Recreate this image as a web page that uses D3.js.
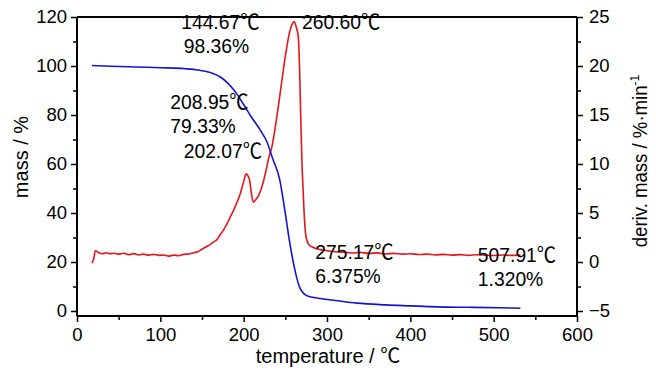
<!DOCTYPE html>
<html><head><meta charset="utf-8">
<script src="https://cdn.jsdelivr.net/npm/d3@7"></script>
<style>
body{margin:0;background:#fff;}
text{font-family:"Liberation Sans",Arial,"Noto Sans CJK SC",sans-serif;fill:#000;}
</style></head><body>
<svg id="c" width="656" height="374"></svg>
<script>
// Temperature (°C) and mass (%) — TG curve
const tgTemp = [18,40,70,100,130,145,160,172,180,187,193,199,209,220,228,235,243,249,255,261,267,272,275,283,292,310,336,370,400,432,470,508,532];
const tgMass = [100.2,99.9,99.6,99.3,98.9,98.4,97.3,95.5,93.3,90.7,88,84.8,79.3,73.8,69,62,54,42,28.5,17.5,9.8,7.2,6.4,5.6,5.1,4.3,3.2,2.5,2.1,1.7,1.5,1.32,1.1];
// Temperature (°C) and derivative mass (%/min) — DTG curve
const dtgTemp = [18,20,22,26,31,35,40,45,50,56,62,68,74,80,86,92,98,104,110,116,122,128,134,140,145,150,155,160,164,168,172,176,180,184,188,192,196,200,203,205,207,209,211.5,214,218,222,226,230,234,238,242,246,250,254,257,260.6,263,265.5,267,268,269,270,271.5,273,275,278,283,290,300,310,320,330,340,350,360,370,380,390,400,410,420,430,440,450,460,470,480,490,500,510,520,532];
const dtgVal  = [-0.1,0.3,1.15,0.95,0.85,0.95,0.85,0.9,0.8,0.9,0.75,0.85,0.72,0.8,0.7,0.78,0.68,0.72,0.6,0.7,0.65,0.78,0.82,0.95,1.05,1.3,1.55,1.8,2.05,2.3,2.8,3.3,3.9,4.6,5.3,6.1,7.0,8.2,9.0,8.8,8.4,7.2,6.1,6.3,6.8,7.7,9.0,10.6,11.8,13.8,16.1,18.6,21.0,23.0,24.0,24.5,24.0,23.0,20,16.5,13,10,7,4.3,2.5,1.8,1.5,1.3,1.15,1.05,1.0,0.92,0.98,0.88,0.93,0.82,0.88,0.8,0.84,0.76,0.8,0.72,0.78,0.7,0.75,0.68,0.74,0.7,0.66,0.72,0.68,0.7];

const xTicks = [0,100,200,300,400,500,600];
const yLeftTicks = [0,20,40,60,80,100,120];
const yRightTicks = [-5,0,5,10,15,20,25];

// annotation labels
const annLabels = ["144.67℃","98.36%","260.60℃","208.95℃","79.33%","202.07℃","275.17℃","6.375%","507.91℃","1.320%"];

const svg = d3.select("#c");
const L=77, R=577, T=17, B=316;
const x = d3.scaleLinear().domain([0,600]).range([L,R]);
const yL = d3.scaleLinear().domain([0,120]).range([311,T]);
const yR = d3.scaleLinear().domain([-5,25]).range([311,T]);

// curves
const tg = tgTemp.map((t,i)=>[t,tgMass[i]]);
const dtg = dtgTemp.map((t,i)=>[t,dtgVal[i]]);
svg.append("path").datum(dtg)
  .attr("d", d3.line().x(d=>x(d[0])).y(d=>yR(d[1])).curve(d3.curveMonotoneX))
  .attr("fill","none").attr("stroke","#e8141a").attr("stroke-width",1.6);
svg.append("path").datum(tg)
  .attr("d", d3.line().x(d=>x(d[0])).y(d=>yL(d[1])).curve(d3.curveMonotoneX))
  .attr("fill","none").attr("stroke","#1414cc").attr("stroke-width",1.6);

// frame
const frame = svg.append("g").attr("stroke","#000").attr("stroke-width",2).attr("fill","none");
frame.append("line").attr("x1",L).attr("x2",R).attr("y1",T).attr("y2",T);
frame.append("line").attr("x1",L).attr("x2",R).attr("y1",B).attr("y2",B);
frame.append("line").attr("x1",L).attr("x2",L).attr("y1",T).attr("y2",B);
frame.append("line").attr("x1",R).attr("x2",R).attr("y1",T).attr("y2",B);

function styleAxis(g){
  g.select(".domain").remove();
  g.selectAll(".tick line").attr("stroke","#000").attr("stroke-width",1.5);
  g.selectAll(".tick text").attr("font-size","18.5px");
}
function minor(g){
  g.select(".domain").remove();
  g.selectAll("line").attr("stroke","#000").attr("stroke-width",1.5);
}
// bottom axis
const gx = svg.append("g").attr("transform",`translate(0,${B})`)
  .call(d3.axisBottom(x).tickValues(xTicks).tickSize(6).tickFormat(d3.format("d")));
styleAxis(gx);
gx.selectAll(".tick text").attr("dy","0.71em").attr("y",12);
svg.append("g").attr("transform",`translate(0,${B})`)
  .call(d3.axisBottom(x).tickValues(d3.range(50,600,100)).tickSize(4).tickFormat("")).call(minor);

// left axis
const gl = svg.append("g").attr("transform",`translate(${L},0)`)
  .call(d3.axisLeft(yL).tickValues(yLeftTicks).tickSize(6).tickPadding(4).tickFormat(d3.format("d")));
styleAxis(gl);
svg.append("g").attr("transform",`translate(${L},0)`)
  .call(d3.axisLeft(yL).tickValues(d3.range(10,120,20)).tickSize(4).tickFormat("")).call(minor);

// right axis
const gr = svg.append("g").attr("transform",`translate(${R},0)`)
  .call(d3.axisRight(yR).tickValues(yRightTicks).tickSize(6).tickPadding(6).tickFormat(d3.format("d")));
styleAxis(gr);
svg.append("g").attr("transform",`translate(${R},0)`)
  .call(d3.axisRight(yR).tickValues(d3.range(-2.5,25,5)).tickSize(4).tickFormat("")).call(minor);

// axis titles
svg.append("text").attr("transform","translate(28,157) rotate(-90)").attr("text-anchor","middle")
  .attr("font-size","20px").text("mass / %");
svg.append("text").attr("x",328).attr("y",363).attr("text-anchor","middle")
  .attr("font-size","20px").text("temperature / ℃");
const rt = svg.append("text").attr("transform","translate(647,161) rotate(-90) scale(0.93,1)").attr("text-anchor","middle")
  .attr("font-size","20px");
rt.append("tspan").text("deriv. mass / %·min");
rt.append("tspan").attr("dy","-0.6em").attr("font-size","13px").text("-1");

// annotation placement (temperature of left edge, value on deriv. axis)
const annT = [125,128,270,112,112,128,286,286,481,481];
const annY = [23.8,21.35,23.8,15.65,13.2,10.6,0.3,-2.15,0.0,-2.45];
annLabels.forEach((s,i)=>{
  const px = x(annT[i]);
  svg.append("text").attr("x",px).attr("y",yR(annY[i]))
    .attr("font-size","21px")
    .attr("transform",`translate(${px},0) scale(0.92,1) translate(${-px},0)`)
    .text(s);
});
</script></body></html>
